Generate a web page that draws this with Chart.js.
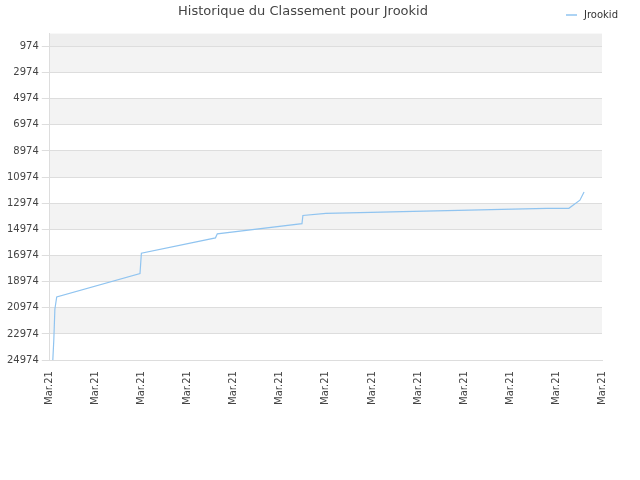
<!DOCTYPE html>
<html><head><meta charset="utf-8">
<script src="https://cdn.jsdelivr.net/npm/chart.js@4"></script>
<style>html,body{margin:0;background:#fff}#wrap{width:640px;height:480px}</style>
</head><body><div id="wrap"><canvas id="c"></canvas></div>
<script>
const title = 'Historique du Classement pour Jrookid';
const seriesName = 'Jrookid';
const xLabels = ['Mar.21','Mar.21','Mar.21','Mar.21','Mar.21','Mar.21','Mar.21','Mar.21','Mar.21','Mar.21','Mar.21','Mar.21','Mar.21'];
const xPos = [0.065,0.087,0.11,0.15,1.96,1.99,3.6,3.64,5.48,5.5,6.0,6.98,7.9,8.88,9.82,10.8,11.28,11.52,11.61];
const rank = [24974,23414,21077,20142,18350,16790,15622,15310,14530,13907,13751,13673,13595,13517,13439,13361,13361,12738,12115];
const yTicks = [974,2974,4974,6974,8974,10974,12974,14974,16974,18974,20974,22974,24974];

// alternating bands + legend drawn top-right next to title
const extras = {
  id:'extras',
  beforeDraw(chart){
    const {ctx, chartArea:a, scales:{y}} = chart;
    ctx.save();
    ctx.fillStyle = '#eeeeee';
    ctx.fillRect(a.left, a.top, a.right-a.left, y.getPixelForValue(974)-a.top);
    for(let i=0;i<yTicks.length-1;i++){
      if(i%2===0){
        const t = y.getPixelForValue(yTicks[i]), b = y.getPixelForValue(yTicks[i+1]);
        ctx.fillStyle = '#f3f3f3';
        ctx.fillRect(a.left, t, a.right-a.left, b-t);
      }
    }
    ctx.restore();
  },
  afterDraw(chart){
    const ctx = chart.ctx;
    ctx.save();
    ctx.strokeStyle = '#90c4f0'; ctx.lineWidth = 1.5;
    ctx.beginPath(); ctx.moveTo(566, 15); ctx.lineTo(577, 15); ctx.stroke();
    ctx.fillStyle = '#333'; ctx.font = '10px DejaVu Sans'; ctx.textBaseline = 'middle';
    ctx.fillText(seriesName, 584, 15);
    ctx.restore();
  }
};

new Chart(document.getElementById('c'), {
  type:'line',
  data:{ datasets:[{ label:seriesName, data:xPos.map((x,i)=>({x, y:rank[i]})),
    borderColor:'#90c4f0', backgroundColor:'#90c4f0', borderWidth:1.2, pointRadius:0, tension:0 }] },
  options:{
    responsive:true, maintainAspectRatio:false, animation:false,
    layout:{ padding:{ left:4, right:38, top:0, bottom:72 } },
    plugins:{
      title:{ display:true, text:title, color:'#444', font:{ family:'DejaVu Sans', size:13, weight:'normal' }, padding:{ top:4, bottom:14 } },
      legend:{ display:false }
    },
    scales:{
      x:{ type:'linear', min:0, max:12,
        afterBuildTicks(s){ s.ticks = xLabels.map((_,i)=>({value:i})); },
        ticks:{ callback:(v,i)=>xLabels[i], maxRotation:90, minRotation:90, color:'#444', font:{ family:'DejaVu Sans', size:10 } },
        grid:{ display:false }, border:{ color:'#dddddd' } },
      y:{ reverse:true, min:0, max:24974,
        afterBuildTicks(s){ s.ticks = yTicks.map(v=>({value:v})); },
        ticks:{ callback:v=>String(v), color:'#444', font:{ family:'DejaVu Sans', size:10 } },
        grid:{ color:'#dddddd' }, border:{ color:'#dddddd' } }
    }
  },
  plugins:[extras]
});
</script></body></html>
